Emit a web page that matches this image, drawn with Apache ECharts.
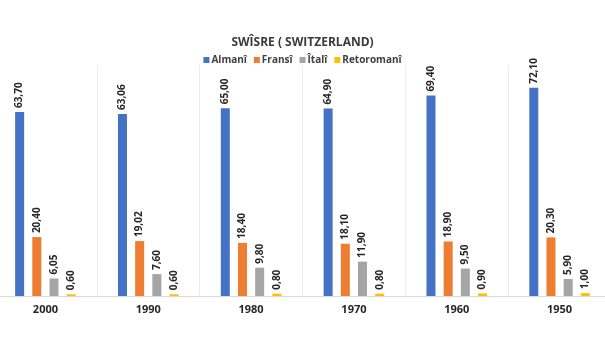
<!DOCTYPE html>
<html>
<head>
<meta charset="utf-8">
<script src="https://cdn.jsdelivr.net/npm/echarts@6/dist/echarts.min.js"></script>
<style>
html,body{margin:0;padding:0;background:#fff;}
#chart{width:605px;height:340px;}
</style>
</head>
<body>
<div id="chart"></div>
<script>
const years = ['2000', '1990', '1980', '1970', '1960', '1950'];
const seriesNames = ['Almanî', 'Fransî', 'Îtalî', 'Retoromanî'];
const almani = [63.70, 63.06, 65.00, 64.90, 69.40, 72.10];
const fransi = [20.40, 19.02, 18.40, 18.10, 18.90, 20.30];
const itali = [6.05, 7.60, 9.80, 11.90, 9.50, 5.90];
const retoromani = [0.60, 0.60, 0.80, 0.80, 0.90, 1.00];
const colors = ['#4472C4', '#ED7D31', '#A5A5A5', '#FFC000'];

const font = '"Open Sans", "Liberation Sans", sans-serif';
const values = [almani, fransi, itali, retoromani];

const chart = echarts.init(document.getElementById('chart'), null, {renderer: 'canvas'});
chart.setOption({
  animation: false,
  backgroundColor: '#fff',
  title: {
    text: 'SWÎSRE ( SWITZERLAND)',
    left: 'center',
    top: 32,
    textStyle: {fontFamily: font, fontSize: 12, fontWeight: 'bold', color: '#3a3a3a'}
  },
  legend: {
    top: 50,
    left: 'center',
    itemWidth: 6,
    itemHeight: 6,
    itemGap: 7,
    icon: 'rect',
    textStyle: {fontFamily: font, fontSize: 10, fontWeight: 'bold', color: '#404040', padding: [0, 0, 0, -3]},
    data: seriesNames
  },
  // the plot runs slightly past both edges of the canvas
  grid: {left: -6, right: -6, top: 65, bottom: 44, outerBoundsMode: 'none'},
  xAxis: {
    type: 'category',
    data: years,
    axisTick: {show: false},
    axisLine: {lineStyle: {color: '#d9d9d9'}},
    splitLine: {show: true, lineStyle: {color: '#ececec'}},
    axisLabel: {fontFamily: font, fontSize: 11, fontWeight: 'bold', color: '#262626', margin: 8}
  },
  yAxis: {
    type: 'value',
    min: 0,
    max: 80,
    show: false,
    splitLine: {show: false}
  },
  series: seriesNames.map((name, i) => ({
    name: name,
    type: 'bar',
    data: values[i],
    barWidth: 9,
    barGap: '91%',
    itemStyle: {color: colors[i]},
    label: {
      show: true,
      position: 'top',
      rotate: 90,
      align: 'left',
      verticalAlign: 'middle',
      distance: 4,
      fontFamily: font,
      fontSize: 10,
      fontWeight: 'bold',
      color: '#262626',
      formatter: p => p.value.toFixed(2).replace('.', ',')
    }
  }))
});
</script>
</body>
</html>
